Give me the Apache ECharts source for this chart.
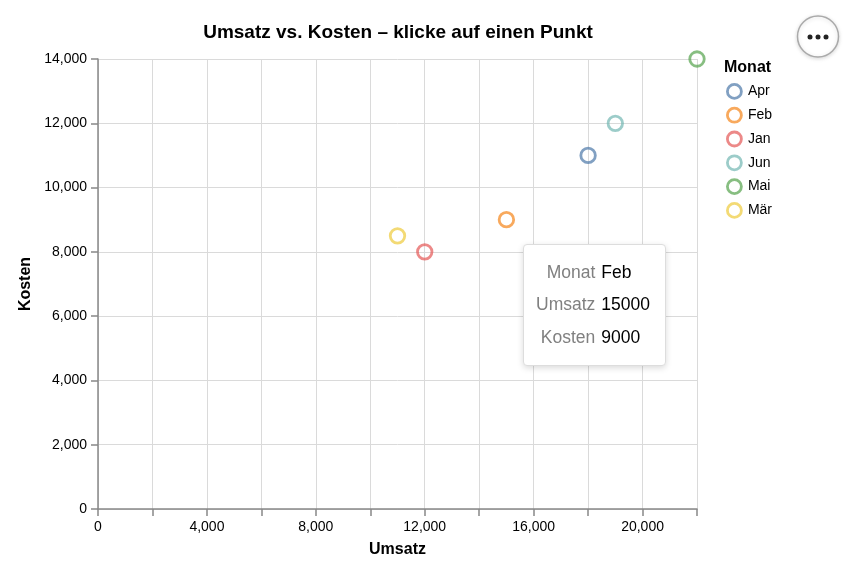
<!DOCTYPE html>
<html>
<head>
<meta charset="utf-8">
<script src="https://cdn.jsdelivr.net/npm/echarts@6/dist/echarts.min.js"></script>
<style>
html,body{margin:0;padding:0;background:#fff;}
#chart{width:852px;height:580px;}
</style>
</head>
<body>
<div id="chart"></div>
<script>
// Data
const months = ['Apr', 'Feb', 'Jan', 'Jun', 'Mai', 'Mär'];
const umsatz = [18000, 15000, 12000, 19000, 22000, 11000];
const kosten = [11000, 9000, 8000, 12000, 14000, 8500];
const colors = ['#4c78a8', '#f58518', '#e45756', '#72b7b2', '#54a24b', '#eeca3b'];
const xTicks = [0, 4000, 8000, 12000, 16000, 20000];
const yTicks = [0, 2000, 4000, 6000, 8000, 10000, 12000, 14000];
const tooltipMonth = 'Feb';

const FONT = "'Liberation Sans', Arial, Helvetica, sans-serif";
const fmt = v => Number(v).toLocaleString('en-US');

const chart = echarts.init(document.getElementById('chart'), null, {renderer: 'canvas'});

const series = months.map((m, i) => ({
  name: m,
  type: 'scatter',
  data: [[umsatz[i], kosten[i]]],
  symbol: 'circle',
  symbolSize: 14.5,
  itemStyle: {color: 'rgba(255,255,255,0)', borderColor: colors[i], borderWidth: 2.8, opacity: 0.7},
  emphasis: {disabled: true}
}));

const option = {
  animation: false,
  textStyle: {fontFamily: FONT},
  title: [
    {text: 'Umsatz vs. Kosten – klicke auf einen Punkt', left: 398, top: 23, textAlign: 'center', padding: 0,
     textStyle: {fontSize: 19, fontWeight: 'bold', color: '#000', fontFamily: FONT}},
    {text: 'Monat', left: 724, top: 60, padding: 0,
     textStyle: {fontSize: 16, fontWeight: 'bold', color: '#000', fontFamily: FONT}}
  ],
  grid: {left: 98, right: 155, top: 59, bottom: 71, containLabel: false},
  legend: {
    orient: 'vertical', left: 726, top: 83, padding: 0,
    itemWidth: 17, itemHeight: 14, itemGap: 7,
    textStyle: {fontSize: 14, color: '#000', fontFamily: FONT},
    data: months.map((m, i) => ({
      name: m, icon: 'circle',
      itemStyle: {color: 'rgba(255,255,255,0)', borderColor: colors[i], borderWidth: 2.8, opacity: 0.7}
    })),
    selectedMode: false
  },
  tooltip: {
    trigger: 'item', triggerOn: 'none', alwaysShowContent: true,
    transitionDuration: 0, showDelay: 0,
    padding: 0, borderWidth: 1, borderColor: '#dddddd', backgroundColor: '#ffffff',
    extraCssText: 'width:143px;height:122px;box-sizing:border-box;border-radius:4px;box-shadow:0 2px 6px rgba(0,0,0,0.15);',
    position: [523, 244],
    formatter: p => {
      const row = (k, v) => '<tr style="height:32.5px"><td style="text-align:right;color:#808080;padding:0 6px 0 0">' + k +
        '</td><td style="color:#000;padding:0">' + v + '</td></tr>';
      return '<div style="padding:11px 13px 13px 12px;font-family:' + FONT.replace(/'/g, '') + ';font-size:17.5px;line-height:1">' +
        '<table style="border-collapse:collapse;border-spacing:0">' +
        row('Monat', p.seriesName) + row('Umsatz', p.value[0]) + row('Kosten', p.value[1]) +
        '</table></div>';
    }
  },
  xAxis: {
    type: 'value', min: 0, max: 22000, interval: 2000,
    name: 'Umsatz', nameLocation: 'middle', nameGap: 33,
    nameTextStyle: {fontSize: 16, fontWeight: 'bold', color: '#000', fontFamily: FONT},
    axisLine: {show: true, onZero: false, lineStyle: {color: '#888', width: 1.5}},
    axisTick: {show: true, length: 7, lineStyle: {color: '#888', width: 1.5}},
    axisLabel: {fontSize: 14, color: '#000', margin: 11,
      formatter: v => xTicks.indexOf(v) >= 0 ? fmt(v) : ''},
    splitLine: {show: true, lineStyle: {color: '#dadada', width: 1}}
  },
  yAxis: {
    type: 'value', min: 0, max: 14000, interval: 2000,
    name: 'Kosten', nameLocation: 'middle', nameGap: 62, nameRotate: 90,
    nameTextStyle: {fontSize: 16, fontWeight: 'bold', color: '#000', fontFamily: FONT},
    axisLine: {show: true, onZero: false, lineStyle: {color: '#888', width: 1.5}},
    axisTick: {show: true, length: 7, lineStyle: {color: '#888', width: 1.5}},
    axisLabel: {fontSize: 14, color: '#000', margin: 11,
      formatter: v => yTicks.indexOf(v) >= 0 ? fmt(v) : ''},
    splitLine: {show: true, lineStyle: {color: '#dadada', width: 1}}
  },
  graphic: [
    {type: 'circle', shape: {cx: 818, cy: 36.5, r: 20.5}, z: 100,
     style: {fill: '#fff', stroke: '#aaaaaa', lineWidth: 1.5, shadowBlur: 4, shadowColor: 'rgba(0,0,0,0.15)', shadowOffsetY: 1}},
    {type: 'circle', shape: {cx: 810, cy: 37, r: 2.5}, z: 101, style: {fill: '#222'}},
    {type: 'circle', shape: {cx: 818, cy: 37, r: 2.5}, z: 101, style: {fill: '#222'}},
    {type: 'circle', shape: {cx: 826, cy: 37, r: 2.5}, z: 101, style: {fill: '#222'}}
  ],
  series: series
};

chart.setOption(option);
chart.dispatchAction({type: 'showTip', seriesIndex: months.indexOf(tooltipMonth), dataIndex: 0});
</script>
</body>
</html>
